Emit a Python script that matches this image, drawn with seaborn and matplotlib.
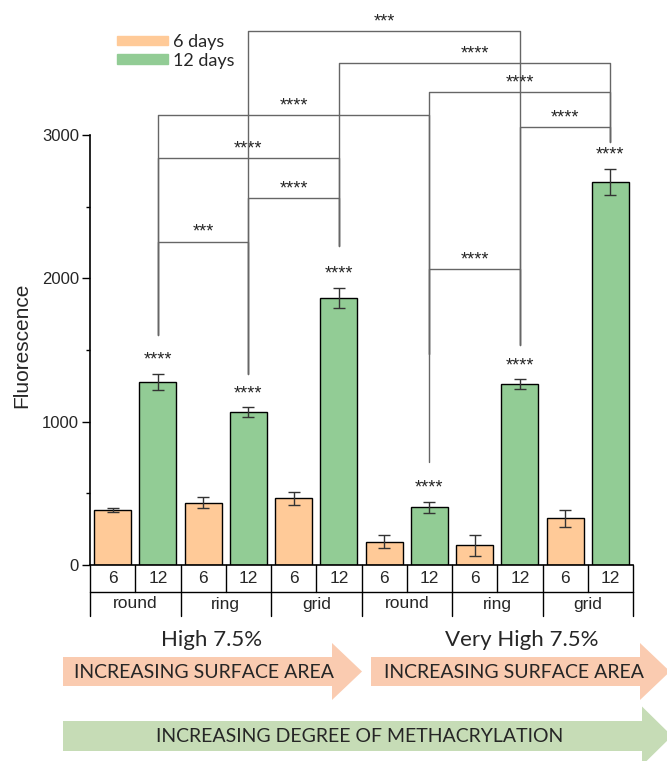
import numpy as np
import pandas as pd
import seaborn as sns
import matplotlib.pyplot as plt
import matplotlib.patches as mpatches
from matplotlib.ticker import FixedLocator

# values
shapes = ['round', 'ring', 'grid', 'round', 'ring', 'grid']
day_labels = ['6', '12']
fluor_6 = [385, 436, 464, 163, 138, 326]
err_6 = [12, 38, 45, 47, 73, 58]
fluor_12 = [1277, 1065, 1865, 403, 1263, 2673]
err_12 = [58, 34, 69, 40, 35, 92]
bar_sig = ['****', '****', '****', '****', '****', '****']
groups = ['High 7.5%', 'Very High 7.5%']

# comparisons between the 12 day bars: (left shape, right shape, label)
comparisons = [(0, 1, '***'), (1, 2, '****'), (0, 2, '****'), (0, 3, '****'),
               (1, 4, '***'), (2, 5, '****'), (3, 5, '****'), (4, 5, '****'),
               (3, 4, '****')]
# bracket height and where each leg stops
bracket_y = [2257, 2563, 2841, 3139, 3728, 3499, 3300, 3053, 2066]
leg_left = [1604, 1330, 1604, 1604, 1330, 2229, 1470, 1534, 717]
leg_right = [1330, 2229, 2229, 1470, 1534, 2948, 2948, 2948, 1534]

orange = '#FFCA98'
green = '#92CC95'
arrow_orange = '#FACBB0'
arrow_green = '#C6DCB6'

# long table, one row per bar
rows = []
for i, s in enumerate(shapes):
    rows.append({'slot': f'{i}-6', 'day': '6 days', 'value': fluor_6[i], 'err': err_6[i]})
    rows.append({'slot': f'{i}-12', 'day': '12 days', 'value': fluor_12[i], 'err': err_12[i]})
df = pd.DataFrame(rows)

sns.set_style('ticks')
plt.rcParams['font.family'] = ['Liberation Sans', 'DejaVu Sans']

fig = plt.figure(figsize=(6.67, 7.61), dpi=100)
W, H = 667, 761
ax_l, ax_r, ax_b = 90, 633, 565
ax = fig.add_axes([ax_l / W, 1 - ax_b / H, (ax_r - ax_l) / W, ax_b / H])

sns.barplot(data=df, x='slot', y='value', hue='day', order=df['slot'],
            palette={'6 days': orange, '12 days': green}, dodge=False, saturation=1,
            width=0.82, edgecolor='black', linewidth=1, legend=False, ax=ax)
ax.errorbar(np.arange(len(df)), df['value'], yerr=df['err'], fmt='none',
            ecolor='#333333', elinewidth=1, capsize=4, capthick=1, zorder=5)

ax.set_xlim(-0.5, len(df) - 0.5)
ax.set_ylim(0, 3942)
ax.set_xlabel('')
ax.set_ylabel('Fluorescence', fontsize=15)
ax.yaxis.set_label_coords(-0.108, 0.389)
ax.set_yticks([0, 1000, 2000, 3000])
ax.yaxis.set_minor_locator(FixedLocator([500, 1500, 2500]))
ax.tick_params(axis='y', which='major', direction='out', length=6, width=1,
               labelsize=12, color='black', pad=2)
ax.tick_params(axis='y', which='minor', direction='out', length=3, width=1, color='black')
ax.set_xticks([])
for side in ['top', 'right']:
    ax.spines[side].set_visible(False)
for side in ['left', 'bottom']:
    ax.spines[side].set_color('black')
    ax.spines[side].set_linewidth(1.2)
ax.spines['left'].set_bounds(0, 3000)

# stars above each 12 day bar
x12 = np.arange(1, len(df), 2)
for k, xi in enumerate(x12):
    ax.annotate(bar_sig[k], (xi, fluor_12[k] + err_12[k]), xytext=(0, 6.4),
                textcoords='offset points', ha='center', va='baseline', fontsize=13)

# brackets
for (a, b, lab), yb, la, lb in zip(comparisons, bracket_y, leg_left, leg_right):
    xa, xb = x12[a], x12[b]
    ax.plot([xa, xa, xb, xb], [la, yb, yb, lb], color='#666666', lw=1,
            clip_on=False, zorder=3)
    ax.annotate(lab, ((xa + xb) / 2, yb), xytext=(0, 3.3), textcoords='offset points',
                ha='center', va='baseline', fontsize=13)

# table under the bars
r1 = -27 / ax_b
r2 = -51 / ax_b
tr = ax.get_xaxis_transform()
for k in range(len(df) + 1):
    ax.plot([k - 0.5, k - 0.5], [0, r1], color='black', lw=1, transform=tr, clip_on=False)
ax.plot([-0.5, len(df) - 0.5], [r1, r1], color='black', lw=1, transform=tr, clip_on=False)
for k in range(len(shapes) + 1):
    ax.plot([2 * k - 0.5, 2 * k - 0.5], [r1, r2], color='black', lw=1, transform=tr,
            clip_on=False)
for k in range(len(df)):
    ax.text(k, r1 / 2, day_labels[k % 2], transform=tr, ha='center', va='center',
            fontsize=12.5)
for k, s in enumerate(shapes):
    ax.text(2 * k + 0.5, (r1 + r2) / 2, s, transform=tr, ha='center', va='center',
            fontsize=12.5)

# legend
handles = [mpatches.Patch(color=orange), mpatches.Patch(color=green)]
fig.legend(handles, ['6 days', '12 days'], loc='upper left',
           bbox_to_anchor=(117 / W, 1 - 34 / H), frameon=False, handlelength=2.8,
           handleheight=0.45, handletextpad=0.3, labelspacing=0.15, borderpad=0,
           borderaxespad=0, prop={'family': 'Lato', 'size': 13})

# arrows and captions under the chart, drawn in pixel space
ov = fig.add_axes([0, 0, 1, 1], zorder=-1)
ov.set_xlim(0, W)
ov.set_ylim(H, 0)
ov.axis('off')


def arrow(x0, xh, xt, ym, bh, hh, color):
    pts = [(x0, ym - bh / 2), (xh, ym - bh / 2), (xh, ym - hh / 2), (xt, ym),
           (xh, ym + hh / 2), (xh, ym + bh / 2), (x0, ym + bh / 2)]
    ov.add_patch(mpatches.Polygon(pts, closed=True, color=color, lw=0))


arrow(63, 332, 362, 671.5, 29, 57, arrow_orange)
arrow(371, 640, 670, 671.5, 29, 57, arrow_orange)
arrow(63, 642, 672, 736, 30, 59, arrow_green)

ov.text(212, 640, groups[0], ha='center', va='center', fontsize=16, family='Lato')
ov.text(522, 640, groups[1], ha='center', va='center', fontsize=16, family='Lato')
ov.text(204, 672, 'INCREASING SURFACE AREA', ha='center', va='center', fontsize=14,
        family='Lato')
ov.text(514, 672, 'INCREASING SURFACE AREA', ha='center', va='center', fontsize=14,
        family='Lato')
ov.text(360, 736, 'INCREASING DEGREE OF METHACRYLATION', ha='center', va='center',
        fontsize=14, family='Lato')

fig.savefig('out.png', dpi=100)
